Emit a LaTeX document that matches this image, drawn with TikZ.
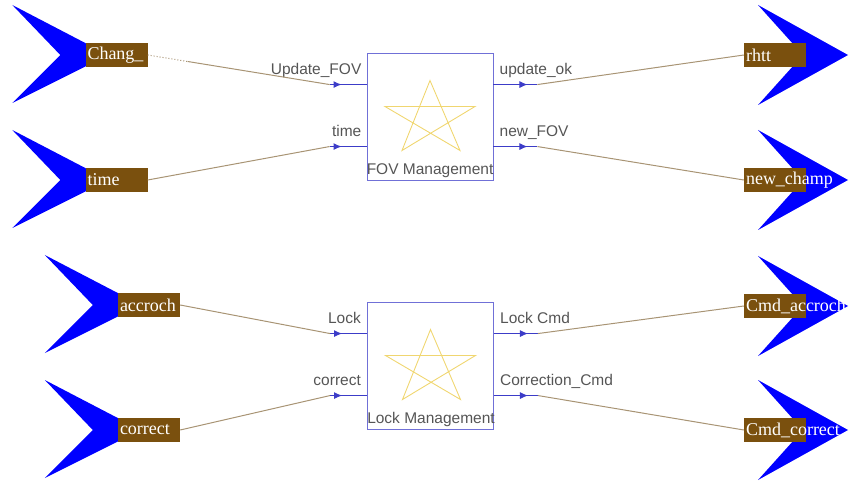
\documentclass[tikz,border=0pt]{standalone}
\usepackage{fontspec}
\setmainfont{Liberation Serif}
\setsansfont{Liberation Sans}
\usepackage{tikz}
\usetikzlibrary{arrows.meta}
\usetikzlibrary{calc}
\usetikzlibrary{positioning}
\usetikzlibrary{backgrounds}
\definecolor{sigbrown}{RGB}{122,80,14}
\definecolor{wiretan}{RGB}{168,148,116}
\definecolor{blockblue}{RGB}{112,112,215}
\definecolor{portblue}{RGB}{60,60,200}
\definecolor{staryellow}{RGB}{240,214,112}
\definecolor{lblgray}{RGB}{85,85,85}
\tikzstyle{block} = [rectangle, draw=blockblue, line width=0.9pt,
    minimum width=126pt, minimum height=127pt, inner sep=0pt]
\tikzstyle{sig} = [rectangle, fill=sigbrown, text=white, inner sep=2pt,
    minimum width=62pt, minimum height=24pt, font=\fontsize{18}{18}\selectfont]
\tikzstyle{wire} = [draw=wiretan, line width=1pt]
\tikzstyle{port} = [draw=portblue, line width=0.9pt]
\tikzstyle{plbl} = [text=lblgray, inner sep=0pt, font=\sffamily\fontsize{15.5}{15.5}\selectfont]
\tikzstyle{pent} = [draw=staryellow, line width=0.9pt]
\tikzstyle{chev} = [fill=blue]
\newcommand\sgtxt[1]{\makebox[58pt][l]{#1}}
% chevron feeding a signal box from the left
\newcommand\chevin[1]{\fill[chev] ([shift={(-73,-50)}]#1.west) -- ([shift={(23,0)}]#1.west)
    -- ([shift={(-73,48)}]#1.west) -- ([shift={(-25,0)}]#1.west) -- cycle;}
% chevron leaving a signal box to the right
\newcommand\chevout[1]{\fill[chev] ([shift={(-17,-50)}]#1.center) -- ([shift={(73,0)}]#1.center)
    -- ([shift={(-17,50)}]#1.center) -- ([shift={(28,0)}]#1.center) -- cycle;}
\newcommand\pentagram[1]{\draw[pent] ([shift={(0,-36)}]#1.center) -- ([shift={(-28,34)}]#1.center)
    -- ([shift={(45,-10)}]#1.center) -- ([shift={(-45,-10)}]#1.center)
    -- ([shift={(30,34)}]#1.center) -- cycle;}

\begin{document}
\begin{tikzpicture}[x=1pt, y=-1pt]
\useasboundingbox (0,0) rectangle (849,481);
	\node [block] (fov) at (430,116.5) {};
	\node [block] (lck) at (430.5,365.5) {};
	\pentagram{fov}
	\pentagram{lck}
	\node [plbl, anchor=base west] (fovt) at ([shift={(0,-6)}]fov.south west) {FOV Management};
	\node [plbl, anchor=base west] (lckt) at ([shift={(0,-6)}]lck.south west) {Lock Management};

	% ports
	\foreach \b in {fov,lck} {
	  \foreach \k/\dy in {1/32,2/94} {
	    \coordinate (\b i\k) at ([shift={(-37,\dy)}]\b.north west);
	    \coordinate (\b o\k) at ([shift={(44,\dy)}]\b.north east);
	    \draw [port] (\b i\k) -- ([shift={(0,\dy)}]\b.north west);
	    \draw [port, -{Latex[length=8pt,width=7pt]}] (\b i\k) -- ++(12,0);
	    \draw [port] ([shift={(0,\dy)}]\b.north east) -- (\b o\k);
	    \draw [port, -{Latex[length=8pt,width=7pt]}] ([shift={(0,\dy)}]\b.north east) -- ++(34,0);
	  }
	}
	\node [plbl, anchor=base east] (l1) at ([shift={(-5,-10)}]fovi1 -| fov.west) {Update\_FOV};
	\node [plbl, anchor=base east] (l2) at ([shift={(-5,-10)}]fovi2 -| fov.west) {time};
	\node [plbl, anchor=base west] (l3) at ([shift={(6,-10)}]fovo1 -| fov.east) {update\_ok};
	\node [plbl, anchor=base west] (l4) at ([shift={(6,-10)}]fovo2 -| fov.east) {new\_FOV};
	\node [plbl, anchor=base east] (l5) at ([shift={(-6,-10)}]lcki1 -| lck.west) {Lock};
	\node [plbl, anchor=base east] (l6) at ([shift={(-6,-10)}]lcki2 -| lck.west) {correct};
	\node [plbl, anchor=base west] (l7) at ([shift={(6,-10)}]lcko1 -| lck.east) {Lock Cmd};
	\node [plbl, anchor=base west] (l8) at ([shift={(6,-10)}]lcko2 -| lck.east) {Correction\_Cmd};

	% signals
	\node [sig] (chang) at (116.5,55) {\sgtxt{Chang\_}};
	\node [sig] (time) at (116.5,180) {\sgtxt{time}};
	\node [sig] (accr) at (149,305) {\sgtxt{accroch}};
	\node [sig] (corr) at (149,430) {\sgtxt{correct}};
	\node [sig] (rhtt) at (775,55) {\sgtxt{rhtt}};
	\node [sig] (newch) at (775,180) {\sgtxt{new\_champ}};
	\node [sig] (cmdacc) at (775,306) {\sgtxt{Cmd\_accroch}};
	\node [sig] (cmdcor) at (775,430) {\sgtxt{Cmd\_correct}};
	\begin{scope}[on background layer]
	\chevin{chang} \chevin{time} \chevin{accr} \chevin{corr}
	\chevout{rhtt} \chevout{newch} \chevout{cmdacc} \chevout{cmdcor}
	\end{scope}

	\coordinate (chgd) at ($(chang.east)!0.22!(fovi1)$);
	\path [wire, dotted] (chang.east) -- (chgd);
	\path [wire] (chgd) -- (fovi1);
	\path [wire] (time.east) -- (fovi2);
	\path [wire] (fovo1) -- (rhtt.west);
	\path [wire] (fovo2) -- (newch.west);
	\path [wire] (accr.east) -- (lcki1);
	\path [wire] (corr.east) -- (lcki2);
	\path [wire] (lcko1) -- (cmdacc.west);
	\path [wire] (lcko2) -- (cmdcor.west);
\end{tikzpicture}
\end{document}
